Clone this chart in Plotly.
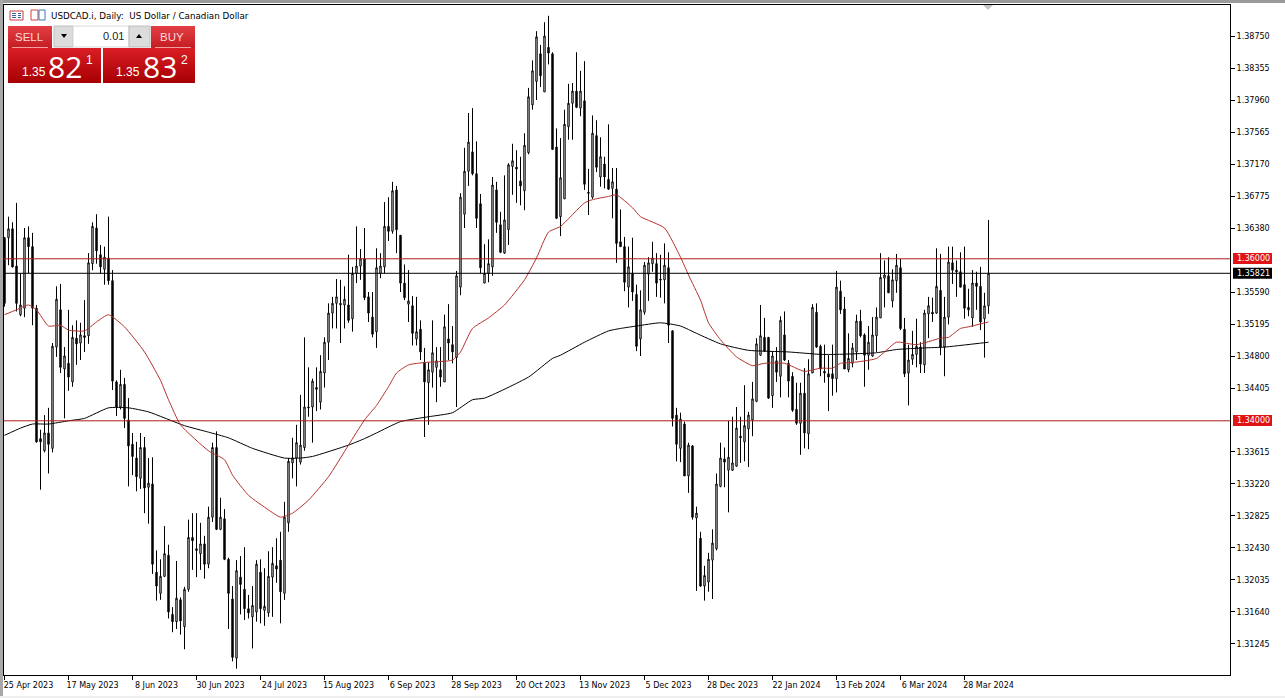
import plotly.graph_objects as go

W, H = 1285, 698

# Daily USDCAD bars, in units of 0.0001
opens_pts = [13626,13626,13637,13591,13531,13539,13626,13615,13539,13378,
13363,13385,13366,13491,13537,13464,13471,13448,13502,13496,
13505,13505,13594,13638,13605,13587,13601,13573,13448,13417,
13445,13401,13371,13354,13329,13367,13318,13322,13213,13187,
13208,13234,13161,13152,13179,13146,13192,13256,13242,13236,
13248,13223,13281,13367,13266,13279,13229,13180,13107,13207,
13192,13168,13158,13164,13213,13166,13163,13207,13221,13228,
13187,13274,13348,13354,13349,13367,13417,13417,13441,13423,
13459,13497,13533,13545,13543,13543,13543,13526,13582,13591,
13600,13553,13528,13510,13582,13590,13640,13634,13685,13629,
13570,13544,13542,13501,13513,13472,13447,13460,13466,13463,
13448,13501,13494,13478,13565,13655,13708,13732,13705,13668,
13570,13582,13590,13685,13642,13607,13636,13714,13713,13696,
13684,13731,13790,13819,13853,13806,13861,13853,13738,13652,
13674,13763,13792,13807,13786,13795,13682,13676,13752,13701,
13717,13698,13687,13686,13621,13615,13565,13582,13556,13501,
13534,13581,13594,13594,13575,13574,13589,13511,13407,13366,
13396,13332,13369,13280,13255,13196,13201,13228,13242,13319,
13353,13339,13339,13344,13381,13374,13390,13401,13424,13481,
13503,13503,13431,13474,13455,13506,13471,13455,13414,13397,
13434,13384,13459,13534,13492,13461,13458,13458,13452,13560,
13538,13463,13471,13485,13523,13506,13481,13480,13505,13527,
13576,13579,13548,13573,13589,13513,13459,13476,13482,13491,
13469,13532,13534,13533,13561,13491,13528,13595,13586,13584,
13568,13540,13527,13570,13566,13526,13542]
highs_pts = [13627,13652,13645,13669,13582,13638,13640,13632,13543,13389,
13407,13416,13496,13566,13569,13491,13537,13518,13524,13521,
13549,13607,13645,13655,13617,13615,13652,13586,13450,13463,
13453,13428,13385,13374,13385,13380,13354,13355,13240,13229,
13270,13247,13170,13227,13182,13195,13278,13286,13286,13274,
13258,13294,13373,13387,13305,13291,13231,13196,13228,13233,
13244,13185,13196,13228,13229,13218,13239,13244,13255,13263,
13300,13354,13379,13395,13432,13503,13466,13452,13466,13481,
13503,13545,13553,13575,13574,13566,13605,13590,13640,13612,
13638,13559,13559,13613,13607,13670,13676,13695,13690,13629,
13593,13586,13554,13553,13524,13490,13472,13524,13491,13491,
13531,13544,13517,13585,13681,13737,13780,13786,13745,13680,
13618,13624,13701,13695,13658,13703,13718,13742,13734,13726,
13755,13811,13845,13881,13864,13892,13900,13855,13761,13749,
13784,13816,13817,13855,13832,13844,13711,13777,13771,13750,
13726,13766,13712,13712,13661,13627,13615,13626,13568,13561,
13596,13602,13621,13607,13605,13619,13608,13512,13416,13410,
13399,13373,13370,13294,13263,13221,13237,13266,13335,13373,
13367,13400,13405,13417,13405,13444,13411,13448,13502,13543,
13527,13503,13485,13491,13529,13535,13475,13460,13447,13447,
13465,13476,13544,13545,13494,13494,13481,13494,13585,13573,
13553,13508,13496,13531,13537,13508,13517,13528,13540,13607,
13598,13602,13587,13606,13600,13527,13494,13511,13526,13497,
13537,13553,13552,13613,13606,13553,13615,13615,13598,13608,
13615,13563,13586,13584,13590,13558,13648]
lows_pts = [13541,13592,13589,13535,13529,13528,13582,13518,13373,13315,
13361,13335,13361,13479,13459,13403,13437,13442,13469,13475,
13485,13495,13586,13594,13582,13568,13568,13438,13406,13414,
13391,13319,13333,13313,13316,13286,13273,13211,13178,13179,
13207,13156,13139,13143,13136,13118,13189,13216,13207,13216,
13205,13218,13275,13265,13265,13228,13143,13103,13094,13161,
13154,13156,13119,13152,13150,13147,13158,13158,13200,13150,
13179,13263,13329,13319,13346,13363,13405,13373,13412,13414,
13441,13475,13514,13514,13496,13514,13521,13510,13570,13574,
13549,13522,13503,13490,13576,13582,13622,13631,13607,13559,
13549,13522,13493,13493,13475,13380,13395,13441,13423,13442,
13448,13475,13471,13417,13555,13638,13690,13703,13638,13582,
13570,13571,13579,13632,13607,13606,13617,13679,13669,13666,
13660,13729,13784,13796,13812,13806,13840,13735,13649,13628,
13674,13747,13747,13786,13776,13685,13654,13674,13707,13689,
13687,13685,13650,13595,13615,13560,13540,13548,13486,13480,
13531,13548,13584,13553,13552,13545,13496,13393,13350,13349,
13332,13311,13278,13190,13195,13178,13189,13180,13240,13318,
13318,13287,13338,13343,13348,13350,13343,13381,13423,13480,
13485,13427,13416,13448,13429,13474,13429,13411,13395,13358,
13366,13365,13459,13490,13455,13447,13412,13431,13435,13532,
13464,13460,13466,13475,13503,13442,13463,13479,13485,13527,
13540,13558,13540,13558,13512,13454,13419,13469,13466,13459,
13459,13502,13522,13532,13481,13455,13519,13569,13553,13565,
13526,13529,13516,13537,13512,13478,13532]
closes_pts = [13545,13637,13590,13545,13543,13626,13615,13539,13374,13374,
13385,13371,13492,13550,13466,13480,13454,13503,13495,13506,
13503,13595,13640,13610,13590,13602,13573,13449,13417,13445,
13403,13369,13356,13331,13367,13317,13323,13223,13196,13208,
13236,13164,13152,13181,13153,13192,13256,13252,13240,13248,
13223,13281,13367,13266,13281,13229,13187,13108,13215,13198,
13168,13163,13172,13223,13168,13171,13208,13224,13217,13189,
13281,13350,13354,13373,13370,13417,13416,13449,13439,13461,
13497,13533,13545,13553,13545,13550,13524,13582,13591,13600,
13552,13533,13507,13589,13591,13640,13634,13684,13636,13570,
13552,13548,13508,13510,13485,13448,13463,13484,13474,13454,
13516,13496,13485,13579,13676,13708,13744,13705,13650,13589,
13582,13594,13691,13645,13608,13648,13716,13721,13711,13690,
13740,13800,13832,13874,13826,13875,13854,13735,13650,13700,
13766,13792,13807,13787,13807,13692,13681,13755,13713,13726,
13701,13686,13695,13619,13615,13571,13590,13559,13492,13537,
13592,13595,13601,13570,13574,13592,13518,13403,13371,13402,
13332,13370,13281,13286,13196,13209,13229,13249,13322,13354,
13349,13355,13348,13391,13379,13394,13407,13427,13495,13505,
13486,13428,13480,13460,13524,13475,13449,13413,13397,13434,
13385,13458,13540,13491,13464,13459,13454,13452,13565,13537,
13464,13477,13490,13523,13505,13481,13497,13506,13528,13577,
13580,13558,13574,13592,13514,13458,13475,13482,13492,13470,
13533,13542,13532,13566,13491,13528,13596,13586,13584,13565,
13539,13537,13570,13566,13522,13542,13582]

# Moving averages: bar number and level read at points along each line
red_bars = [0,3,6,8,11,14,16,20,23,26,30,35,39,41,44,51,55,57,61,66,69,72,76,81,86,90,93,96,98,101,105,112,114,117,121,125,130,133,136,139,145,147,151,153,157,159,165,169,171,174,176,179,183,187,190,195,200,204,207,209,212,218,223,228,234,236,239,241,246]
red_pts = [13531,13537,13543,13537,13517,13518,13512,13511,13522,13531,13516,13485,13450,13426,13395,13363,13352,13333,13308,13290,13281,13286,13302,13331,13370,13401,13419,13442,13459,13469,13472,13475,13485,13514,13527,13543,13574,13601,13633,13640,13669,13673,13677,13679,13663,13652,13638,13602,13580,13549,13521,13500,13479,13468,13471,13471,13461,13465,13465,13471,13472,13477,13497,13494,13502,13503,13514,13516,13522]
black_bars = [0,4,7,11,16,20,26,31,36,45,51,56,62,70,74,77,86,90,93,99,106,112,117,120,131,137,139,145,151,154,158,164,169,173,179,186,196,204,208,218,223,230,235,246]
black_pts = [13382,13391,13396,13396,13400,13403,13416,13416,13411,13394,13386,13379,13366,13354,13354,13356,13370,13378,13385,13399,13405,13410,13426,13428,13454,13477,13481,13497,13511,13514,13517,13521,13517,13508,13495,13487,13485,13482,13482,13484,13488,13490,13491,13497]

# Levels and axis labels
red_levels = [1.36000, 1.34000]
bid_level = 1.35821
date_ticks = [0,16,32,48,64,80,96,112,128,144,160,176,192,208,224,240]
date_labels = ["25 Apr 2023","17 May 2023","8 Jun 2023","30 Jun 2023","24 Jul 2023","15 Aug 2023",
               "6 Sep 2023","28 Sep 2023","20 Oct 2023","13 Nov 2023","5 Dec 2023","28 Dec 2023",
               "22 Jan 2024","13 Feb 2024","6 Mar 2024","28 Mar 2024"]
price_ticks = [1.38750,1.38355,1.37960,1.37565,1.37170,1.36775,1.36380,1.35590,1.35195,1.34800,
               1.34405,1.33615,1.33220,1.32825,1.32430,1.32035,1.31640,1.31245]

scale = lambda xs: [v / 10000 for v in xs]
bars = list(range(len(opens_pts)))
AXIS_FONT = "DejaVu Sans"

fig = go.Figure()
fig.add_trace(go.Candlestick(
    x=bars, open=scale(opens_pts), high=scale(highs_pts), low=scale(lows_pts), close=scale(closes_pts),
    increasing=dict(line=dict(color="#000000", width=1), fillcolor="#ffffff"),
    decreasing=dict(line=dict(color="#000000", width=1), fillcolor="#000000"),
    whiskerwidth=0, hoverinfo="skip", showlegend=False))
fig.add_trace(go.Scatter(x=black_bars, y=scale(black_pts), mode="lines",
                         line=dict(color="#000000", width=1, shape="spline", smoothing=0.5),
                         hoverinfo="skip", showlegend=False))
fig.add_trace(go.Scatter(x=red_bars, y=scale(red_pts), mode="lines",
                         line=dict(color="#b5322c", width=1, shape="spline", smoothing=0.5),
                         hoverinfo="skip", showlegend=False))

px = lambda x: x / W
py = lambda y: 1 - y / H
shapes, notes = [], []

def rect(x0, y0, x1, y1, fill, line=None, lw=1):
    shapes.append(dict(type="rect", xref="paper", yref="paper", x0=px(x0), x1=px(x1), y0=py(y0), y1=py(y1),
                       fillcolor=fill, line=dict(color=line or fill, width=lw if line else 0), layer="above"))

def gradient(x0, y0, x1, y1, c0, c1):
    n = int(y1 - y0)
    for k in range(n):
        t = k / max(n - 1, 1)
        c = tuple(round(a + (b - a) * t) for a, b in zip(c0, c1))
        rect(x0, y0 + k, x1, y0 + k + 1, "rgb(%d,%d,%d)" % c)

def text(x, y, s, size, color="#000000", anchor="left", family="Liberation Sans"):
    notes.append(dict(xref="paper", yref="paper", x=px(x), y=py(y), text=s, showarrow=False, xanchor=anchor,
                      yanchor="middle", font=dict(size=size, color=color, family=family), borderpad=0))

# Horizontal levels
for lvl in red_levels:
    shapes.append(dict(type="line", xref="paper", yref="y", x0=px(4), x1=px(1230), y0=lvl, y1=lvl,
                       line=dict(color="#b01c1c", width=1), layer="above"))
shapes.append(dict(type="line", xref="paper", yref="y", x0=px(4), x1=px(1230), y0=bid_level, y1=bid_level,
                   line=dict(color="#000000", width=1), layer="above"))

# Window edges and chart-shift marker
rect(0, 0, W, 3, "#9a9a9a")
rect(0, 0, 3, H, "#a8a8a8")
rect(0, 696, W, H, "#efefef")
shapes.append(dict(type="path", xref="paper", yref="paper",
                   path=f"M {px(983)} {py(5)} L {px(993)} {py(5)} L {px(988)} {py(10)} Z",
                   fillcolor="#c4c4c4", line=dict(width=0), layer="above"))

# Right-hand price tags
for lvl, label, fill, y in [(1.36, "1.36000", "#e01414", 258.5), (1.34, "1.34000", "#e01414", 420.5),
                            (1.35821, "1.35821", "#000000", 273.3)]:
    rect(1233, y - 5.5, 1272, y + 5.5, fill)
    text(1236, y, label, 8, "#ffffff", family=AXIS_FONT)

# Header icons and title
rect(10, 11, 23, 20, "#ffffff", "#c83c3c")
for yy in (13, 15, 17):
    rect(12, yy, 16, yy + 1, "#2f66a8")
    rect(18, yy, 21, yy + 1, "#2f66a8")
rect(31, 10, 38, 20, "#ffffff", "#d04040")
rect(39, 10, 45, 20, "#ffffff", "#3a78b8")
text(50, 15.5, "USDCAD.i, Daily:&nbsp;&nbsp;US Dollar / Canadian Dollar", 8.75, family=AXIS_FONT)

# One-click trading panel
gradient(8, 26, 52, 48, (226, 62, 66), (196, 30, 36))
gradient(151, 26, 195, 48, (226, 62, 66), (196, 30, 36))
gradient(8, 48, 101, 83, (216, 30, 36), (168, 0, 4))
gradient(103, 48, 195, 83, (216, 30, 36), (168, 0, 4))
rect(12, 47, 48, 48, "#f0a0a0")
rect(155, 47, 191, 48, "#f0a0a0")
rect(54, 26, 73, 47, "#dcdcdc", "#bdbdbd")
rect(73, 26, 129, 47, "#ffffff", "#d8d8d8")
rect(129, 26, 150, 47, "#dcdcdc", "#bdbdbd")
shapes.append(dict(type="path", xref="paper", yref="paper",
                   path=f"M {px(61)} {py(34)} L {px(67)} {py(34)} L {px(64)} {py(38)} Z",
                   fillcolor="#000000", line=dict(width=0), layer="above"))
shapes.append(dict(type="path", xref="paper", yref="paper",
                   path=f"M {px(136)} {py(38)} L {px(142)} {py(38)} L {px(139)} {py(34)} Z",
                   fillcolor="#000000", line=dict(width=0), layer="above"))
text(29, 37, "SELL", 11.5, "#ffd8d8", "center", "Liberation Sans")
text(172, 37, "BUY", 11.5, "#ffd8d8", "center", "Liberation Sans")
text(125, 36.5, "0.01", 11, "#222222", "right", "Liberation Sans")
text(21, 72.5, "1.35", 12, "#ffffff", "left", "Liberation Sans")
text(47, 66, "82", 30, "#ffffff", "left", "Open Sans")
text(85, 60, "1", 12, "#ffffff", "left", "Liberation Sans")
text(115, 72.5, "1.35", 12, "#ffffff", "left", "Liberation Sans")
text(142, 66, "83", 30, "#ffffff", "left", "Open Sans")
text(180, 60, "2", 12, "#ffffff", "left", "Liberation Sans")

fig.update_layout(
    width=W, height=H, margin=dict(l=0, r=0, t=0, b=0),
    paper_bgcolor="#ffffff", plot_bgcolor="#ffffff", showlegend=False,
    font=dict(family=AXIS_FONT, size=8, color="#000000"),
    boxgap=0.5,
    shapes=shapes, annotations=notes,
    xaxis=dict(domain=[px(4), px(1230)], range=[-0.125, 306.375], tickmode="array", tickvals=date_ticks,
               ticktext=date_labels, ticks="outside", ticklen=4, tickcolor="#000", tickwidth=1,
               ticklabelshift=24, ticklabelstandoff=-2, showgrid=False, zeroline=False,
               rangeslider=dict(visible=False),
               showline=True, linecolor="#000000", linewidth=1, mirror=True, fixedrange=True),
    yaxis=dict(domain=[py(675), py(5)], range=[1.30862, 1.39133], side="right", tickmode="array",
               tickvals=price_ticks, tickformat=".5f", ticks="outside", ticklen=4, tickcolor="#000",
               tickwidth=1, showgrid=False, zeroline=False, showline=True, linecolor="#000000",
               linewidth=1, mirror=True, fixedrange=True),
)
fig.write_html("out.html", config=dict(displayModeBar=False),
               post_script="document.body.style.margin='0';document.body.style.overflow='hidden';")
